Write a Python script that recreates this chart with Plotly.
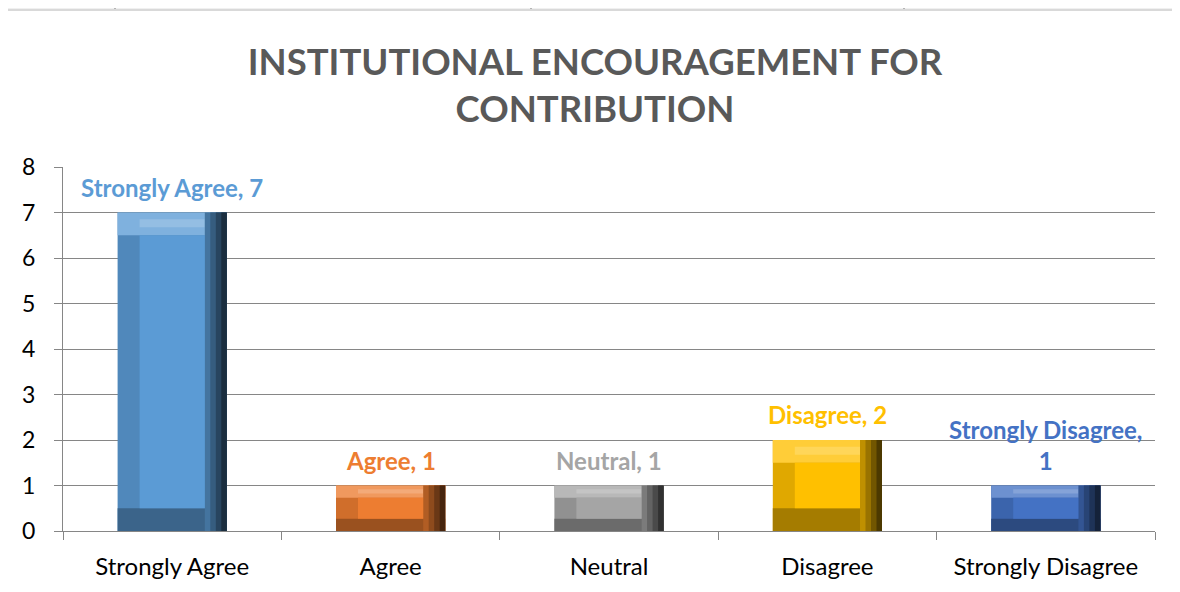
import plotly.graph_objects as go

categories = ["Strongly Agree", "Agree", "Neutral", "Disagree", "Strongly Disagree"]
values = [7, 1, 1, 2, 1]
label_texts = ["Strongly Agree, 7", "Agree, 1", "Neutral, 1", "Disagree, 2", "Strongly Disagree,<br>1"]
bar_colors = ["#5B9BD5", "#ED7D31", "#A5A5A5", "#FFC000", "#4472C4"]
y_ticks = [0, 1, 2, 3, 4, 5, 6, 7, 8]
title_text = "<b>INSTITUTIONAL ENCOURAGEMENT FOR<br>CONTRIBUTION</b>"

FONT = "Lato, Calibri, sans-serif"
# the page body adds an 8px offset; the figure is sized to the remaining window
OFF = 8
W, H = 1180 - OFF, 592 - OFF
L, R, T, B = 55, 25, 159, 61
pw, ph = W - L - R, H - T - B

def px_x(p):
    return (p - L) / pw

def px_y(p):
    return (H - B - p) / ph

def hex_rgb(c):
    c = c.lstrip("#")
    return [int(c[i:i + 2], 16) for i in (0, 2, 4)]

def shade(c, f):
    r, g, b = hex_rgb(c)
    if f >= 1:
        t = f - 1
        r, g, b = [int(v + (255 - v) * t) for v in (r, g, b)]
    else:
        r, g, b = [int(v * f) for v in (r, g, b)]
    return f"rgb({r},{g},{b})"

# bevel look: frame of shaded strips around the main face
BW = 0.5                                   # bar width in category units
CAT_PX = pw / len(categories)
SIDE = 22 / CAT_PX                         # side bevel width (category units)
bev = [min(0.5, 0.27 * v) for v in values] # vertical bevel (data units)

fig = go.Figure()
def add_layer(colors, base, top, offset, width):
    fig.add_trace(go.Bar(
        x=categories, y=[t - b for t, b in zip(top, base)], base=base,
        offset=offset, width=width,
        marker=dict(color=colors, line=dict(width=0)),
        hoverinfo="skip", showlegend=False,
    ))

zeros = [0] * len(values)
tops_in = [v - b for v, b in zip(values, bev)]
# whole bar (left bevel tone)
add_layer([shade(c, 0.88) for c in bar_colors], zeros, values, -BW / 2, BW)
# bottom bevel
add_layer([shade(c, 0.65) for c in bar_colors], zeros, bev, -BW / 2, BW)
# top bevel (highlight)
add_layer([shade(c, 1.22) for c in bar_colors], tops_in, values, -BW / 2, BW)
add_layer([shade(c, 1.35) for c in bar_colors],
          [t + b * 0.35 for t, b in zip(tops_in, bev)], [t + b * 0.7 for t, b in zip(tops_in, bev)],
          -BW / 2 + SIDE, BW - 2 * SIDE)
# right bevel, graded toward a dark edge
steps = [0.75, 0.6, 0.45, 0.3]
for i, f in enumerate(steps):
    w = SIDE * (len(steps) - i) / len(steps)
    add_layer([shade(c, f) for c in bar_colors], zeros, values, BW / 2 - w, w)
# front face
add_layer(bar_colors, bev, tops_in, -BW / 2 + SIDE, BW - 2 * SIDE)

for cat, v, txt, col in zip(categories, values, label_texts, bar_colors):
    fig.add_annotation(
        x=cat, y=v, text=f"<b>{txt}</b>", showarrow=False,
        yanchor="bottom", yshift=9,
        font=dict(family=FONT, size=24, color=col),
    )

# top strip (table fragment above the chart) and chart border
shapes = [
    dict(type="rect", xref="paper", yref="paper", x0=px_x(-5), x1=px_x(W + 5),
         y0=px_y(1), y1=px_y(-5), fillcolor="#F0F0F0", line=dict(width=0), layer="below"),
    dict(type="rect", xref="paper", yref="paper", x0=px_x(-1), x1=px_x(W + 10),
         y0=px_y(H + 10), y1=px_y(2), fillcolor="rgba(0,0,0,0)",
         line=dict(color="#D9D9D9", width=2), layer="below"),
]
for xp in [107, 523, 896]:
    shapes.append(dict(type="line", xref="paper", yref="paper", x0=px_x(xp), x1=px_x(xp),
                       y0=px_y(1), y1=px_y(-2), line=dict(color="#A0A0A0", width=1.5)))
fig.update_layout(shapes=shapes)

fig.update_layout(
    width=W, height=H,
    margin=dict(l=L, r=R, t=T, b=B),
    paper_bgcolor="white", plot_bgcolor="white",
    barmode="overlay",
    showlegend=False,
    title=dict(text=title_text, x=587 / W, xanchor="center", xref="container",
               y=1 - 67 / H, yanchor="middle", yref="container",
               font=dict(family=FONT, size=36.5, color="#595959")),
    font=dict(family=FONT, color="#000000"),
    xaxis=dict(
        showline=True, linecolor="#868686", linewidth=1,
        ticks="outside", tickson="boundaries", ticklen=8, tickcolor="#868686",
        tickfont=dict(family=FONT, size=24, color="#000000"),
        ticklabelstandoff=14,
        showgrid=False,
    ),
    yaxis=dict(
        range=[0, 8], tickvals=y_ticks,
        showline=True, linecolor="#868686", linewidth=1,
        ticks="outside", ticklen=8, tickcolor="#868686",
        showgrid=True, gridcolor="#868686", gridwidth=1,
        tickfont=dict(family=FONT, size=23, color="#000000"),
        ticklabelstandoff=14, zeroline=False,
    ),
)

fig.write_html("out.html")
